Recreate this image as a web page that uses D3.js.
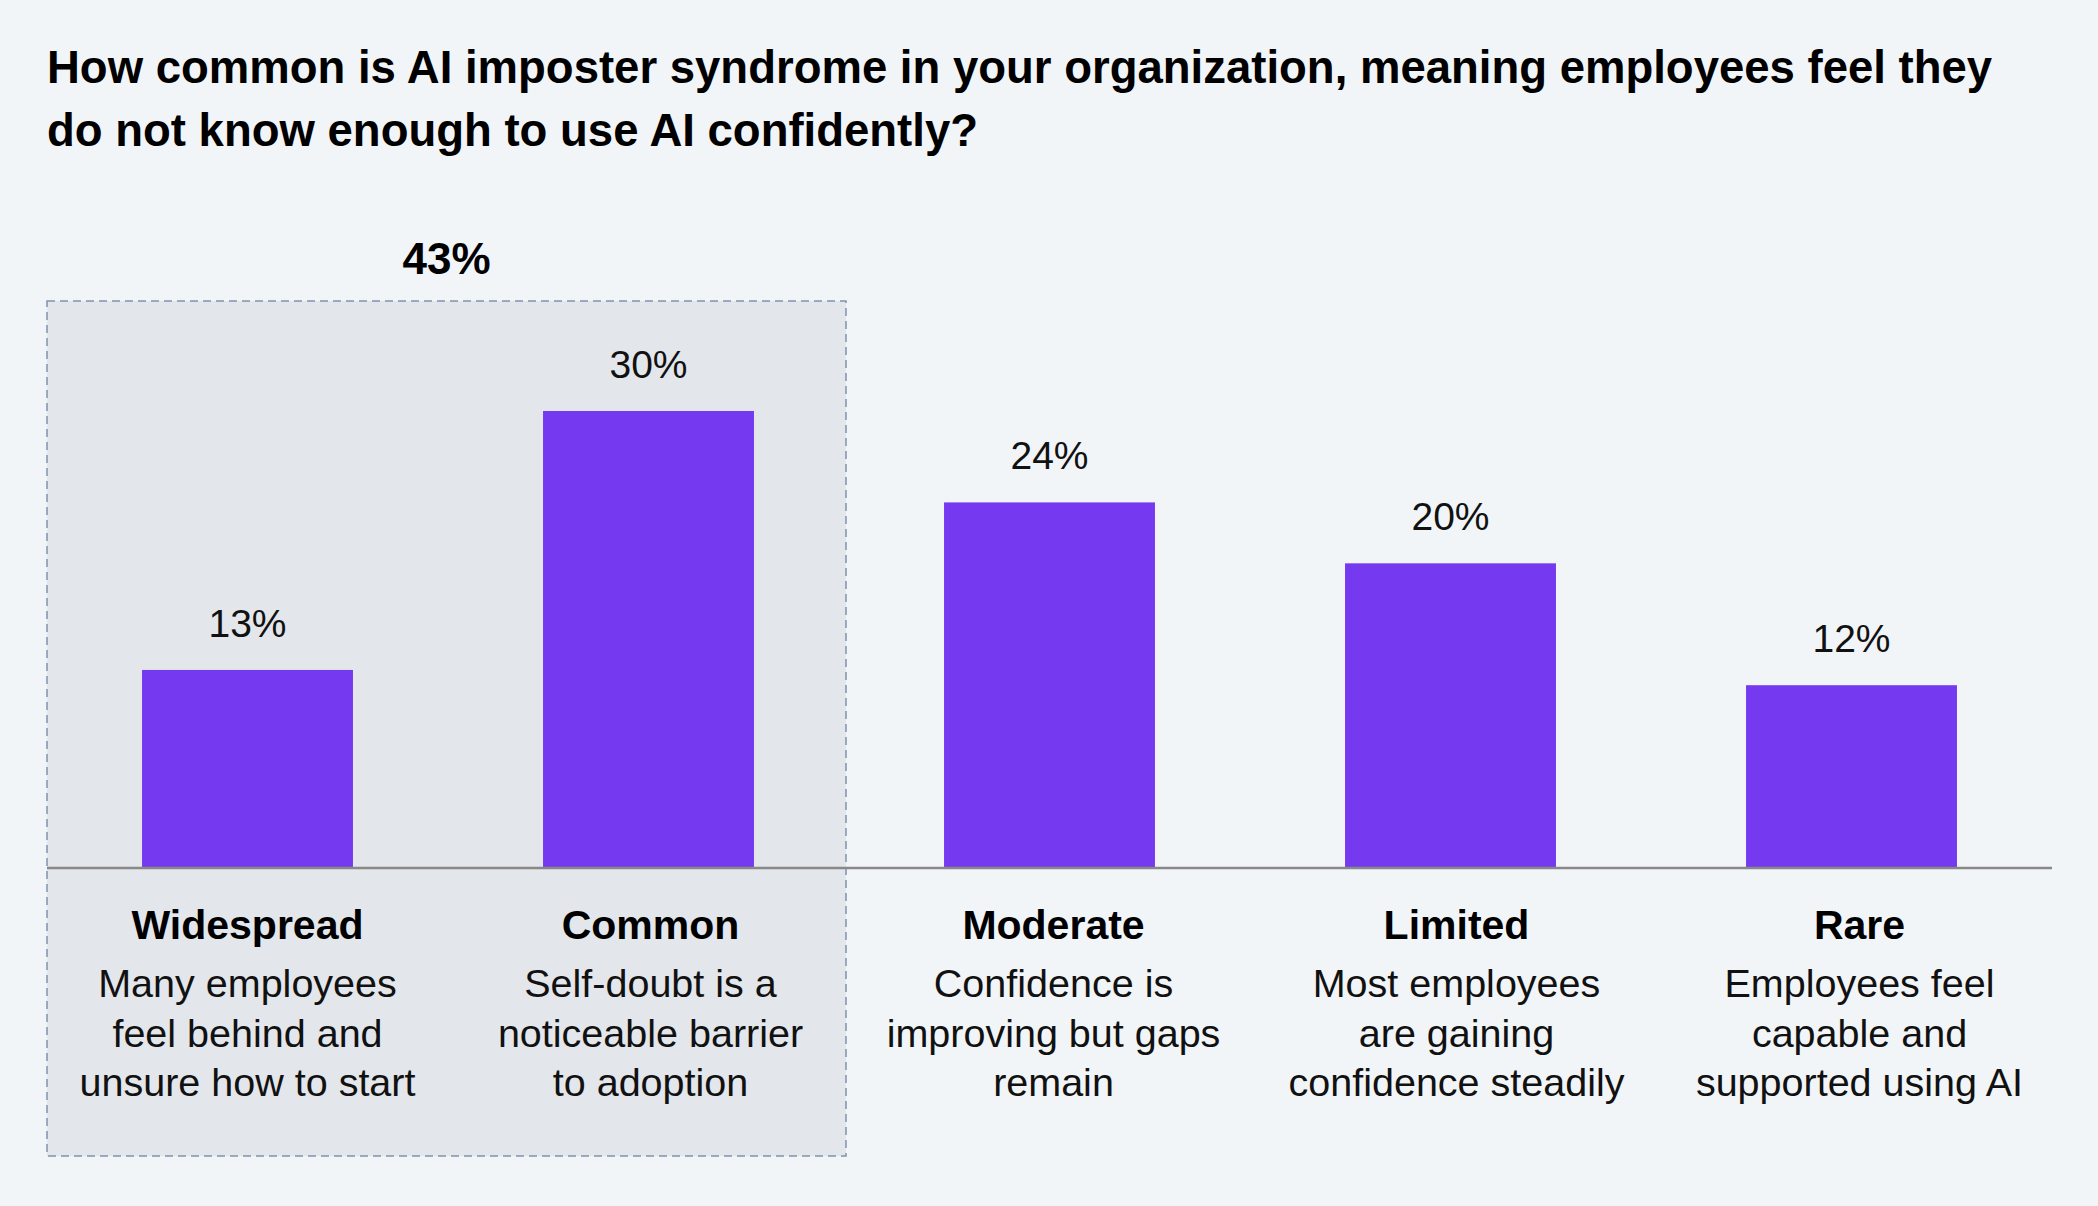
<!DOCTYPE html>
<html>
<head>
<meta charset="utf-8">
<script src="https://cdn.jsdelivr.net/npm/d3@7"></script>
<style>
    body { margin: 0; background: #f2f5f8; }
    svg { display: block; font-family: "Liberation Sans", Arial, Helvetica, sans-serif; }
</style>
</head>
<body>
<div id="chart"></div>
<script>
// data
const categories = ["Widespread", "Common", "Moderate", "Limited", "Rare"];
const values = [13, 30, 24, 20, 12];
const descriptions = [
    ["Many employees", "feel behind and", "unsure how to start"],
    ["Self-doubt is a", "noticeable barrier", "to adoption"],
    ["Confidence is", "improving but gaps", "remain"],
    ["Most employees", "are gaining", "confidence steadily"],
    ["Employees feel", "capable and", "supported using AI"]
];
const highlighted = ["Widespread", "Common"];
const titleLines = [
    "How common is AI imposter syndrome in your organization, meaning employees feel they",
    "do not know enough to use AI confidently?"
];

const width = 2098, height = 1206;
const baseY = 868;

let svg = d3.select("#chart").append("svg")
    .attr("width", width)
    .attr("height", height);

svg.append("rect")
    .attr("width", width)
    .attr("height", height)
    .attr("fill", "#f2f5f8");

// scales
let x = d3.scaleBand()
    .domain(categories)
    .range([47, 2052])
    .padding(0);
let barW = x.bandwidth() * 0.526;

// category texts sit on a slightly wider spacing than the bars
let xLabel = d3.scaleBand()
    .domain(categories)
    .range([46, 2061])
    .padding(0);

let y = d3.scaleLinear()
    .domain([0, 30])
    .range([baseY, 411]);

// highlight box behind the first two categories
let boxLeft = x(highlighted[0]);
let boxRight = x(highlighted[highlighted.length - 1]) + x.bandwidth() - 3;
svg.append("rect")
    .attr("x", boxLeft)
    .attr("y", 301)
    .attr("width", boxRight - boxLeft)
    .attr("height", 1156 - 301)
    .attr("fill", "#e3e6eb")
    .attr("stroke", "#7f93ad")
    .attr("stroke-width", 1.5)
    .attr("stroke-dasharray", "8,5");

svg.append("text")
    .attr("x", (boxLeft + boxRight) / 2)
    .attr("y", 274)
    .attr("text-anchor", "middle")
    .attr("font-size", 44)
    .attr("font-weight", "bold")
    .attr("fill", "#000")
    .text(d3.sum(values.filter((v, i) => highlighted.includes(categories[i]))) + "%");

// title
svg.append("g")
    .selectAll("text")
    .data(titleLines)
    .join("text")
    .attr("x", 47)
    .attr("y", (d, i) => 83 + i * 63)
    .attr("font-size", 45.5)
    .attr("font-weight", "bold")
    .attr("fill", "#000")
    .text(d => d);

let data = categories.map((c, i) => ({cat: c, value: values[i], desc: descriptions[i]}));

// bars
svg.append("g")
    .selectAll("rect")
    .data(data)
    .join("rect")
    .attr("x", d => x(d.cat) + (x.bandwidth() - barW) / 2)
    .attr("y", d => y(d.value))
    .attr("width", barW)
    .attr("height", d => baseY - y(d.value))
    .attr("fill", "#7539f0");

// value labels
svg.append("g")
    .selectAll("text")
    .data(data)
    .join("text")
    .attr("x", d => x(d.cat) + x.bandwidth() / 2)
    .attr("y", d => y(d.value) - 33)
    .attr("text-anchor", "middle")
    .attr("font-size", 39)
    .attr("fill", "#111")
    .text(d => d.value + "%");

// baseline
svg.append("line")
    .attr("x1", x.range()[0])
    .attr("x2", x.range()[1])
    .attr("y1", baseY)
    .attr("y2", baseY)
    .attr("stroke", "#888")
    .attr("stroke-width", 2.5);

// category labels + descriptions
let labels = svg.append("g")
    .selectAll("g")
    .data(data)
    .join("g")
    .attr("transform", d => `translate(${xLabel(d.cat) + xLabel.bandwidth() / 2},0)`);

labels.append("text")
    .attr("y", 939)
    .attr("text-anchor", "middle")
    .attr("font-size", 41)
    .attr("font-weight", "bold")
    .attr("fill", "#000")
    .text(d => d.cat);

labels.selectAll(".desc")
    .data(d => d.desc)
    .join("text")
    .attr("class", "desc")
    .attr("y", (d, i) => 997 + i * 49.5)
    .attr("text-anchor", "middle")
    .attr("font-size", 39.5)
    .attr("fill", "#111")
    .text(d => d);
</script>
</body>
</html>
